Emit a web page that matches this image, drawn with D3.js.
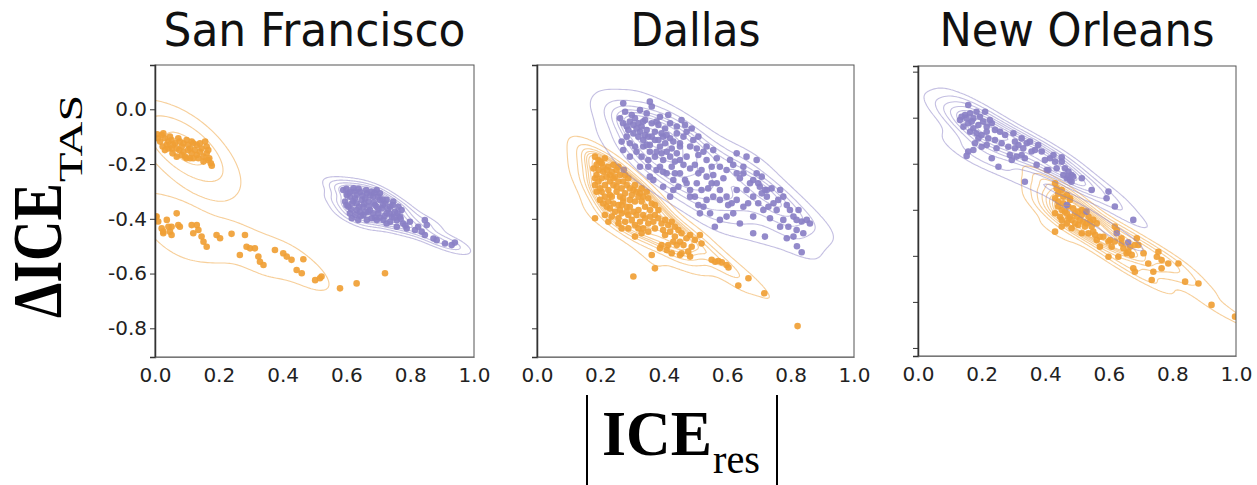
<!DOCTYPE html>
<html>
<head>
<meta charset="utf-8">
<script src="https://cdn.jsdelivr.net/npm/d3@7"></script>
<style>
  html, body { margin: 0; padding: 0; background: #ffffff; }
  svg { display: block; }
</style>
</head>
<body>
<svg id="chart" width="1257" height="485"></svg>
<script>
// ---- data: [|ICE_res|, ΔICE_TAS] pairs per city and group ----
const cities = ["San Francisco", "Dallas", "New Orleans"];
const xTicks = [0, 0.2, 0.4, 0.6, 0.8, 1.0];
const yTicksA = [0, -0.2, -0.4, -0.6, -0.8];
const yTicksB = [0.2, 0, -0.2, -0.4, -0.6, -0.8, -1.0];

const sfOrange = [
  [0.007,-0.091],[0.010,-0.106],[0.016,-0.118],[0.021,-0.094],[0.026,-0.088],[0.031,-0.106],[0.037,-0.130],[0.031,-0.149],
  [0.042,-0.118],[0.047,-0.100],[0.052,-0.112],[0.057,-0.130],[0.063,-0.124],[0.068,-0.143],[0.068,-0.173],[0.073,-0.106],
  [0.078,-0.118],[0.084,-0.136],[0.089,-0.124],[0.089,-0.155],[0.094,-0.173],[0.099,-0.112],[0.104,-0.130],[0.110,-0.143],
  [0.110,-0.179],[0.115,-0.161],[0.120,-0.124],[0.125,-0.149],[0.131,-0.130],[0.131,-0.167],[0.136,-0.179],[0.141,-0.155],
  [0.146,-0.143],[0.152,-0.173],[0.157,-0.118],[0.162,-0.136],[0.162,-0.161],[0.167,-0.149],[0.170,-0.179],[0.175,-0.197],
  [0.178,-0.206],[0.167,-0.185],[0.152,-0.191],[0.120,-0.179],[0.099,-0.179],[0.084,-0.167],[0.052,-0.143],[0.024,-0.136],
  [0.042,-0.143],[0.104,-0.149],[0.141,-0.124],[0.115,-0.118],[0.076,-0.149],[0.055,-0.161],
  [0.003,-0.392],[0.010,-0.410],[0.021,-0.435],[0.026,-0.453],[0.037,-0.404],[0.047,-0.447],[0.052,-0.429],[0.068,-0.380],
  [0.078,-0.429],[0.115,-0.423],[0.120,-0.453],[0.131,-0.423],[0.136,-0.441],[0.146,-0.465],[0.152,-0.484],[0.162,-0.502],
  [0.193,-0.459],[0.204,-0.471],[0.240,-0.455],[0.266,-0.532],[0.282,-0.459],[0.287,-0.502],[0.298,-0.508],[0.313,-0.508],
  [0.324,-0.538],[0.329,-0.557],[0.340,-0.569],[0.376,-0.514],[0.402,-0.526],[0.413,-0.538],[0.428,-0.550],[0.444,-0.587],
  [0.460,-0.599],[0.465,-0.548],[0.502,-0.624],[0.517,-0.617],[0.522,-0.611],[0.580,-0.654],[0.632,-0.636],[0.721,-0.599],
  [0.026,-0.447],[0.052,-0.459],[0.073,-0.423],[0.042,-0.429],[0.005,-0.392]
];

const sfPurple = [
  [0.590,-0.295],[0.601,-0.313],[0.596,-0.337],[0.606,-0.356],[0.611,-0.380],[0.617,-0.398],[0.622,-0.289],[0.627,-0.325],
  [0.632,-0.344],[0.632,-0.368],[0.643,-0.301],[0.648,-0.331],[0.653,-0.356],[0.653,-0.386],[0.664,-0.307],[0.669,-0.337],
  [0.674,-0.368],[0.679,-0.398],[0.684,-0.319],[0.690,-0.350],[0.695,-0.295],[0.700,-0.380],[0.705,-0.331],[0.711,-0.362],
  [0.716,-0.404],[0.721,-0.344],[0.726,-0.380],[0.737,-0.356],[0.742,-0.392],[0.747,-0.337],[0.752,-0.374],[0.758,-0.405],
  [0.763,-0.356],[0.768,-0.392],[0.773,-0.368],[0.737,-0.411],[0.695,-0.404],[0.664,-0.404],[0.637,-0.404],[0.611,-0.319],
  [0.679,-0.301],[0.726,-0.417],[0.789,-0.435],[0.799,-0.411],[0.815,-0.441],[0.825,-0.429],[0.846,-0.405],[0.852,-0.423],
  [0.836,-0.447],[0.846,-0.459],[0.873,-0.472],[0.883,-0.478],[0.909,-0.490],[0.930,-0.496],[0.940,-0.487],[0.758,-0.429],
  [0.778,-0.417],[0.606,-0.307],[0.659,-0.325],[0.695,-0.356],[0.669,-0.374],[0.632,-0.313],[0.705,-0.307],[0.617,-0.344],
  [0.684,-0.380],[0.726,-0.331],[0.643,-0.374],
  [0.600,-0.290],[0.612,-0.300],[0.625,-0.300],[0.638,-0.290],[0.650,-0.315],[0.662,-0.295],[0.675,-0.315],[0.688,-0.305],
  [0.700,-0.320],[0.713,-0.330],[0.622,-0.335],[0.640,-0.355],[0.656,-0.345],[0.671,-0.355],[0.686,-0.340],[0.700,-0.365],
  [0.715,-0.350],[0.730,-0.365],[0.745,-0.350],[0.760,-0.380],[0.600,-0.350],[0.615,-0.365],[0.628,-0.385],[0.645,-0.390],
  [0.660,-0.375],[0.690,-0.395],[0.705,-0.395],[0.720,-0.390],[0.735,-0.380],[0.750,-0.395],[0.770,-0.400],[0.785,-0.425]
];

const dallasOrange = [
  [0.183,-0.173],[0.194,-0.185],[0.188,-0.203],[0.204,-0.197],[0.214,-0.179],[0.178,-0.216],[0.194,-0.222],[0.209,-0.228],
  [0.225,-0.210],[0.236,-0.228],[0.246,-0.246],[0.188,-0.240],[0.204,-0.252],[0.220,-0.246],[0.230,-0.264],[0.183,-0.277],
  [0.199,-0.289],[0.214,-0.277],[0.225,-0.295],[0.241,-0.277],[0.257,-0.264],[0.267,-0.289],[0.278,-0.307],[0.251,-0.301],
  [0.262,-0.319],[0.236,-0.319],[0.214,-0.319],[0.199,-0.331],[0.225,-0.337],[0.241,-0.344],[0.257,-0.350],[0.272,-0.337],
  [0.283,-0.356],[0.293,-0.331],[0.299,-0.313],[0.309,-0.337],[0.320,-0.319],[0.330,-0.337],[0.341,-0.356],[0.351,-0.325],
  [0.362,-0.344],[0.372,-0.350],[0.383,-0.368],[0.320,-0.368],[0.304,-0.374],[0.288,-0.386],[0.267,-0.380],[0.246,-0.374],
  [0.230,-0.362],[0.214,-0.386],[0.257,-0.398],[0.278,-0.411],[0.299,-0.404],[0.309,-0.423],[0.325,-0.411],[0.335,-0.435],
  [0.351,-0.417],[0.341,-0.398],[0.357,-0.392],[0.367,-0.411],[0.393,-0.417],[0.404,-0.404],[0.414,-0.423],[0.425,-0.411],
  [0.435,-0.429],[0.446,-0.441],[0.456,-0.453],[0.420,-0.447],[0.404,-0.459],[0.435,-0.465],[0.451,-0.484],[0.472,-0.471],
  [0.483,-0.459],[0.498,-0.477],[0.514,-0.459],[0.519,-0.490],[0.488,-0.502],[0.477,-0.520],[0.483,-0.538],[0.456,-0.526],
  [0.414,-0.496],[0.409,-0.514],[0.393,-0.496],[0.388,-0.508],[0.425,-0.526],[0.451,-0.532],[0.362,-0.532],[0.372,-0.581],
  [0.304,-0.611],[0.183,-0.398],[0.225,-0.411],[0.236,-0.392],[0.267,-0.435],[0.309,-0.465],[0.330,-0.453],[0.551,-0.550],
  [0.562,-0.557],[0.572,-0.554],[0.583,-0.559],[0.598,-0.569],[0.604,-0.578],[0.635,-0.644],[0.667,-0.617],[0.717,-0.672],
  [0.822,-0.792],
  [0.199,-0.191],[0.209,-0.210],[0.220,-0.222],[0.230,-0.240],[0.241,-0.252],[0.251,-0.222],[0.262,-0.240],[0.272,-0.264],
  [0.283,-0.277],[0.293,-0.289],[0.304,-0.295],[0.314,-0.301],[0.325,-0.307],[0.335,-0.319],[0.251,-0.283],[0.272,-0.325],
  [0.293,-0.356],[0.314,-0.386],[0.335,-0.386],[0.183,-0.252],[0.194,-0.264],[0.204,-0.301],[0.241,-0.203],[0.257,-0.210],
  [0.278,-0.240],[0.288,-0.252],[0.309,-0.277],[0.330,-0.289],[0.346,-0.301],[0.188,-0.301],[0.209,-0.344],[0.230,-0.313],
  [0.262,-0.368],[0.283,-0.374],[0.357,-0.368],[0.372,-0.386],[0.383,-0.398],[0.398,-0.441],[0.430,-0.484],[0.441,-0.496],
  [0.462,-0.496],[0.372,-0.435],[0.351,-0.447],[0.320,-0.435],[0.288,-0.435],[0.257,-0.417],[0.267,-0.350],[0.220,-0.356]
];

const dallasPurple = [
  [0.272,0.022],[0.356,0.028],[0.362,0.010],[0.299,-0.021],[0.262,-0.033],[0.272,-0.051],[0.283,-0.063],[0.293,-0.045],
  [0.309,-0.033],[0.320,-0.051],[0.330,-0.063],[0.341,-0.039],[0.346,-0.076],[0.362,-0.051],[0.372,-0.082],[0.383,-0.057],
  [0.393,-0.088],[0.404,-0.070],[0.414,-0.021],[0.420,-0.051],[0.304,-0.088],[0.320,-0.100],[0.335,-0.112],[0.351,-0.100],
  [0.356,-0.130],[0.372,-0.112],[0.388,-0.136],[0.404,-0.124],[0.409,-0.155],[0.425,-0.143],[0.441,-0.161],[0.451,-0.136],
  [0.456,-0.039],[0.467,-0.057],[0.472,-0.082],[0.488,-0.070],[0.493,-0.112],[0.504,-0.143],[0.509,-0.167],[0.525,-0.155],
  [0.535,-0.136],[0.556,-0.149],[0.567,-0.179],[0.451,-0.185],[0.462,-0.203],[0.472,-0.173],[0.483,-0.216],[0.498,-0.203],
  [0.509,-0.234],[0.519,-0.222],[0.535,-0.246],[0.551,-0.210],[0.556,-0.240],[0.567,-0.270],[0.577,-0.295],[0.588,-0.252],
  [0.598,-0.222],[0.609,-0.185],[0.619,-0.203],[0.630,-0.234],[0.640,-0.252],[0.651,-0.210],[0.661,-0.295],[0.672,-0.270],
  [0.682,-0.258],[0.693,-0.234],[0.703,-0.283],[0.709,-0.246],[0.719,-0.295],[0.725,-0.319],[0.740,-0.289],[0.746,-0.343],
  [0.761,-0.331],[0.777,-0.319],[0.788,-0.350],[0.798,-0.368],[0.809,-0.392],[0.825,-0.368],[0.835,-0.410],[0.851,-0.404],
  [0.861,-0.417],[0.819,-0.441],[0.809,-0.465],[0.820,-0.500],[0.835,-0.522],[0.767,-0.429],[0.735,-0.398],[0.719,-0.465],
  [0.682,-0.392],[0.640,-0.417],[0.619,-0.380],[0.598,-0.392],[0.577,-0.404],[0.561,-0.429],[0.546,-0.380],[0.525,-0.356],
  [0.514,-0.380],[0.498,-0.319],[0.483,-0.295],[0.472,-0.270],[0.446,-0.283],[0.430,-0.295],[0.420,-0.319],[0.398,-0.283],
  [0.409,-0.234],[0.388,-0.210],[0.372,-0.173],[0.351,-0.185],[0.330,-0.173],[0.314,-0.155],[0.293,-0.173],[0.272,-0.149],
  [0.267,-0.118],[0.356,-0.246],[0.367,-0.258],[0.398,-0.185],[0.425,-0.210],[0.435,-0.234],[0.451,-0.234],[0.467,-0.258],
  [0.504,-0.270],[0.519,-0.295],[0.540,-0.289],[0.556,-0.319],[0.577,-0.331],[0.598,-0.319],[0.614,-0.343],[0.630,-0.331],
  [0.651,-0.356],[0.666,-0.343],[0.682,-0.319],[0.698,-0.343],[0.714,-0.368],[0.730,-0.356],[0.756,-0.368],[0.777,-0.404],
  [0.793,-0.429],[0.682,-0.453],[0.603,-0.350],[0.630,-0.295],[0.661,-0.173],[0.693,-0.185],[0.725,-0.295],[0.767,-0.295],
  [0.819,-0.404],[0.840,-0.453],[0.788,-0.471],[0.462,-0.100],[0.441,-0.088],[0.388,-0.027],[0.346,-0.015],[0.325,-0.003],
  [0.393,-0.161],[0.483,-0.136],[0.509,-0.100],[0.577,-0.210],[0.535,-0.185],[0.551,-0.270],[0.630,-0.161],[0.651,-0.234],
  [0.698,-0.270],[0.709,-0.307],[0.535,-0.331],[0.509,-0.350],[0.483,-0.319],[0.430,-0.258],[0.398,-0.228],[0.377,-0.222],
  [0.351,-0.210],[0.325,-0.210],[0.293,-0.124],[0.283,-0.100],[0.309,-0.136],[0.335,-0.136],[0.377,-0.155],[0.420,-0.106],
  [0.451,-0.124],[0.278,-0.009],[0.288,-0.076],[0.304,-0.057],[0.325,-0.082],[0.341,-0.094],[0.362,-0.100],[0.377,-0.045],
  [0.398,-0.100],[0.409,-0.094],[0.430,-0.118],[0.441,-0.063],[0.335,-0.045],[0.314,-0.070],[0.356,-0.155],[0.383,-0.112],
  [0.346,-0.130],[0.420,-0.173],[0.435,-0.191],[0.274,-0.221]
];

const noOrange = [
  [0.431,-0.285],[0.436,-0.307],[0.441,-0.329],[0.452,-0.314],[0.468,-0.336],[0.478,-0.350],[0.431,-0.350],[0.441,-0.386],
  [0.457,-0.372],[0.473,-0.386],[0.431,-0.415],[0.447,-0.430],[0.462,-0.408],[0.478,-0.430],[0.494,-0.415],[0.488,-0.394],
  [0.504,-0.408],[0.515,-0.423],[0.525,-0.408],[0.536,-0.430],[0.541,-0.452],[0.551,-0.444],[0.562,-0.459],[0.525,-0.473],
  [0.515,-0.502],[0.504,-0.466],[0.494,-0.459],[0.468,-0.459],[0.483,-0.480],[0.536,-0.502],[0.551,-0.495],[0.562,-0.531],
  [0.557,-0.509],[0.572,-0.517],[0.599,-0.538],[0.604,-0.531],[0.619,-0.473],[0.625,-0.488],[0.640,-0.524],[0.630,-0.604],
  [0.599,-0.604],[0.646,-0.567],[0.661,-0.582],[0.667,-0.560],[0.672,-0.596],[0.682,-0.553],[0.688,-0.524],[0.693,-0.553],
  [0.677,-0.654],[0.682,-0.669],[0.735,-0.705],[0.740,-0.669],[0.751,-0.604],[0.756,-0.582],[0.766,-0.618],[0.766,-0.654],
  [0.787,-0.633],[0.819,-0.633],[0.840,-0.712],[0.882,-0.720],[0.923,-0.813],[0.997,-0.864],[0.431,-0.495],[0.452,-0.473],
  [0.478,-0.357],[0.515,-0.401],[0.441,-0.365],[0.457,-0.343],[0.452,-0.401],[0.468,-0.415],[0.483,-0.444],[0.509,-0.444],
  [0.520,-0.452],[0.530,-0.459],[0.546,-0.473],[0.499,-0.430],[0.473,-0.437],[0.452,-0.444],[0.583,-0.517],[0.609,-0.560],
  [0.572,-0.560],[0.619,-0.538],[0.640,-0.546],[0.656,-0.589],[0.709,-0.589],[0.724,-0.633]
];

const noPurple = [
  [0.158,0.055],[0.132,-0.010],[0.148,0.012],[0.164,0.019],[0.174,-0.003],[0.184,0.026],[0.195,0.004],[0.211,0.026],
  [0.158,-0.024],[0.143,-0.039],[0.174,-0.046],[0.190,-0.032],[0.205,-0.017],[0.216,-0.039],[0.226,-0.010],[0.232,-0.024],
  [0.164,-0.061],[0.184,-0.068],[0.200,-0.075],[0.216,-0.061],[0.242,-0.053],[0.258,-0.061],[0.274,-0.075],[0.300,-0.068],
  [0.305,-0.104],[0.326,-0.090],[0.342,-0.111],[0.352,-0.104],[0.378,-0.119],[0.368,-0.140],[0.389,-0.147],[0.305,-0.133],
  [0.289,-0.162],[0.326,-0.162],[0.336,-0.176],[0.310,-0.169],[0.284,-0.126],[0.247,-0.133],[0.232,-0.176],[0.216,-0.119],
  [0.200,-0.126],[0.174,-0.140],[0.158,-0.147],[0.153,-0.166],[0.179,-0.111],[0.253,-0.213],[0.295,-0.184],[0.331,-0.133],
  [0.373,-0.205],[0.405,-0.227],[0.415,-0.176],[0.431,-0.191],[0.452,-0.191],[0.462,-0.220],[0.473,-0.234],[0.483,-0.249],
  [0.468,-0.263],[0.483,-0.278],[0.515,-0.263],[0.478,-0.271],[0.546,-0.314],[0.599,-0.321],[0.593,-0.350],[0.619,-0.386],
  [0.677,-0.444],[0.625,-0.502],[0.661,-0.541],[0.468,-0.379],[0.336,-0.278],[0.530,-0.408],[0.452,-0.172],[0.426,-0.162],
  [0.410,-0.227],[0.436,-0.220],[0.457,-0.249],[0.473,-0.256],[0.488,-0.256],[0.399,-0.184],[0.357,-0.147],[0.316,-0.119],
  [0.263,-0.111],[0.242,-0.097],[0.221,-0.090],[0.190,-0.090],[0.169,-0.017],[0.153,-0.003],[0.137,0.004]
];

// ---- layout & style ----
const ORANGE = "#f0a035";
const PURPLE = "#8a80c6";

const panelDefs = [
  { name: cities[0], titleWidth: 302, x0: 155, x1: 474, y0: 65, y1: 357, yDomain: [-0.9048, 0.1618], yTicks: yTicksA, yLabels: true, groups: [sfOrange, sfPurple] },
  { name: cities[1], titleWidth: 130, x0: 537, x1: 854, y0: 65, y1: 357, yDomain: [-0.9048, 0.1618], yTicks: yTicksA, yLabels: false, groups: [dallasOrange, dallasPurple] },
  { name: cities[2], titleWidth: 275, x0: 918, x1: 1236, y0: 66, y1: 356, yDomain: [-1.035, 0.2245], yTicks: yTicksB, yLabels: false, groups: [noOrange, noPurple] }
];
const groupColors = [ORANGE, PURPLE];

const svg = d3.select("#chart");
const defs = svg.append("defs");

// Gaussian KDE on a regular grid (Scott's rule, full covariance)
function kdeGrid(points, G) {
  const n = points.length;
  const mx = d3.mean(points, d => d[0]), my = d3.mean(points, d => d[1]);
  let sxx = 0, syy = 0, sxy = 0;
  for (const [x, y] of points) {
    sxx += (x - mx) ** 2; syy += (y - my) ** 2; sxy += (x - mx) * (y - my);
  }
  sxx /= (n - 1); syy /= (n - 1); sxy /= (n - 1);
  const f2 = Math.pow(n, -1 / 3);
  const cxx = sxx * f2, cyy = syy * f2, cxy = sxy * f2;
  const det = cxx * cyy - cxy * cxy;
  const ixx = cyy / det, iyy = cxx / det, ixy = -cxy / det;
  const norm = 1 / (n * 2 * Math.PI * Math.sqrt(det));
  const bx = Math.sqrt(cxx), by = Math.sqrt(cyy);
  const gx0 = d3.min(points, d => d[0]) - 3 * bx, gx1 = d3.max(points, d => d[0]) + 3 * bx;
  const gy0 = d3.min(points, d => d[1]) - 3 * by, gy1 = d3.max(points, d => d[1]) + 3 * by;
  const sx = (gx1 - gx0) / (G - 1), sy = (gy1 - gy0) / (G - 1);
  const values = new Float64Array(G * G);
  for (let j = 0; j < G; j++) {
    const y = gy0 + j * sy;
    for (let i = 0; i < G; i++) {
      const x = gx0 + i * sx;
      let s = 0;
      for (let k = 0; k < n; k++) {
        const dx = x - points[k][0], dy = y - points[k][1];
        s += Math.exp(-0.5 * (ixx * dx * dx + 2 * ixy * dx * dy + iyy * dy * dy));
      }
      values[j * G + i] = s * norm;
    }
  }
  return { values, gx0, gy0, sx, sy, G };
}

// iso-proportion levels shared across groups
function quantileLevels(grids, props) {
  const all = [];
  grids.forEach(g => { for (const v of g.values) all.push(v); });
  all.sort((a, b) => b - a);
  const total = d3.sum(all);
  const cum = new Float64Array(all.length);
  let c = 0;
  for (let i = 0; i < all.length; i++) { c += all[i]; cum[i] = c / total; }
  return props.map(p => {
    const idx = d3.bisectLeft(cum, 1 - p);
    return all[Math.min(idx, all.length - 1)];
  });
}

const props = d3.range(10).map(i => 0.05 + i * (0.95 / 9));

panelDefs.forEach((p, pi) => {
  const x = d3.scaleLinear().domain([0, 1]).range([p.x0, p.x1]);
  const y = d3.scaleLinear().domain(p.yDomain).range([p.y1, p.y0]);

  const clipId = "clip" + pi;
  defs.append("clipPath").attr("id", clipId)
    .append("rect").attr("x", p.x0).attr("y", p.y0)
    .attr("width", p.x1 - p.x0).attr("height", p.y1 - p.y0);

  const g = svg.append("g");
  const plot = g.append("g").attr("clip-path", `url(#${clipId})`);

  // scatter
  p.groups.forEach((pts, gi) => {
    plot.append("g").selectAll("circle").data(pts).join("circle")
      .attr("cx", d => x(d[0])).attr("cy", d => y(d[1]))
      .attr("r", 3.3)
      .attr("fill", groupColors[gi])
      .attr("fill-opacity", 0.92);
  });

  // density contours
  const G = 150;
  const N = d3.sum(p.groups, d => d.length);
  const grids = p.groups.map(pts => {
    const gr = kdeGrid(pts, G);
    const w = pts.length / N;
    for (let i = 0; i < gr.values.length; i++) gr.values[i] *= w;
    return gr;
  });
  const levels = quantileLevels(grids, props).slice(0, 9);
  grids.forEach((gr, gi) => {
    const proj = d3.geoTransform({
      point(px, py) {
        this.stream.point(x(gr.gx0 + (px - 0.5) * gr.sx), y(gr.gy0 + (py - 0.5) * gr.sy));
      }
    });
    const path = d3.geoPath(proj);
    const cs = d3.contours().size([gr.G, gr.G]).thresholds(levels)(Array.from(gr.values));
    plot.append("g").selectAll("path").data(cs).join("path")
      .attr("d", path)
      .attr("fill", "none")
      .attr("stroke", groupColors[gi])
      .attr("stroke-opacity", 0.5)
      .attr("stroke-width", 1.1);
  });

  // frame
  g.append("rect").attr("x", p.x0).attr("y", p.y0)
    .attr("width", p.x1 - p.x0).attr("height", p.y1 - p.y0)
    .attr("fill", "none").attr("stroke", "#555").attr("stroke-width", 1);

  // axes
  const yAxis = d3.axisLeft(y).tickValues(p.yTicks).tickSize(5).tickPadding(3)
    .tickFormat(d => p.yLabels ? d.toFixed(1) : "");
  const ya = g.append("g").attr("transform", `translate(${p.x0},0)`).call(yAxis);
  ya.select(".domain").attr("stroke", "#333").attr("stroke-width", 1.5);
  ya.selectAll(".tick line").attr("stroke", "#333");
  ya.selectAll("text").attr("font-family", "DejaVu Sans").attr("font-size", 20).attr("fill", "#222");

  const xAxis = d3.axisBottom(x).tickValues(xTicks).tickSize(0).tickPadding(11)
    .tickFormat(d => d.toFixed(1));
  const xa = g.append("g").attr("transform", `translate(0,${p.y1})`).call(xAxis);
  xa.select(".domain").attr("stroke", "#777");
  xa.selectAll("text").attr("font-family", "DejaVu Sans").attr("font-size", 20).attr("fill", "#222");

  // title
  g.append("text").attr("x", (p.x0 + p.x1) / 2 - p.titleWidth / 2).attr("y", 46)
    .attr("font-family", "DejaVu Sans").attr("font-size", 46).attr("fill", "#111")
    .attr("textLength", p.titleWidth).attr("lengthAdjust", "spacingAndGlyphs")
    .text(p.name);
});

// y-axis title (reads bottom to top)
const yt = svg.append("g").attr("transform", "translate(61,318) rotate(-90)");
yt.append("text").attr("x", 0).attr("y", 0)
  .attr("font-family", "Liberation Serif").attr("font-weight", "bold").attr("font-size", 70)
  .attr("textLength", 135).attr("lengthAdjust", "spacingAndGlyphs").attr("fill", "#000")
  .text("ΔICE");
yt.append("g").attr("transform", "translate(136,21) scale(1.42,1)")
  .append("text").attr("x", 0).attr("y", 0)
  .attr("font-family", "Liberation Serif").attr("font-size", 34).attr("fill", "#000")
  .text("TAS");

// x-axis title
const xt = svg.append("g");
xt.append("line").attr("x1", 587).attr("x2", 587).attr("y1", 395).attr("y2", 485).attr("stroke", "#000").attr("stroke-width", 2);
xt.append("line").attr("x1", 777).attr("x2", 777).attr("y1", 395).attr("y2", 485).attr("stroke", "#000").attr("stroke-width", 2);
xt.append("text").attr("x", 602).attr("y", 455)
  .attr("font-family", "Liberation Serif").attr("font-weight", "bold").attr("font-size", 63)
  .attr("textLength", 110).attr("lengthAdjust", "spacingAndGlyphs").attr("fill", "#000")
  .text("ICE");
xt.append("text").attr("x", 713).attr("y", 473)
  .attr("font-family", "Liberation Serif").attr("font-size", 42)
  .attr("textLength", 47).attr("lengthAdjust", "spacingAndGlyphs").attr("fill", "#000")
  .text("res");
</script>
</body>
</html>
